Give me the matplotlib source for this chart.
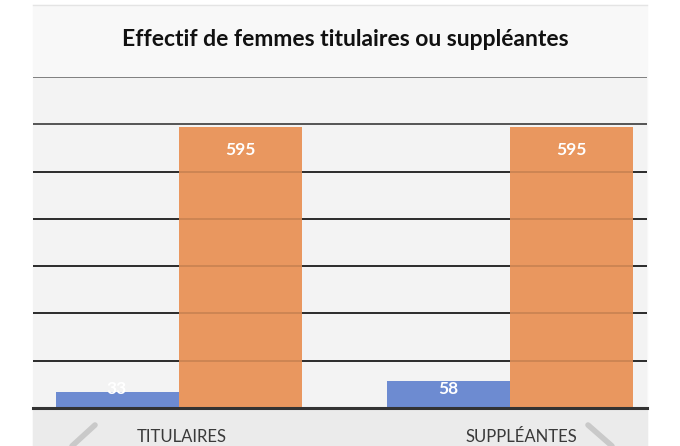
import matplotlib
matplotlib.use("Agg")
import matplotlib.pyplot as plt
from matplotlib.patches import Rectangle
from matplotlib.lines import Line2D
import numpy as np

title = "Effectif de femmes titulaires ou suppléantes"
categories = ["TITULAIRES", "SUPPLÉANTES"]
series_blue = [33, 58]
series_orange = [595, 595]
y_ticks = [0, 100, 200, 300, 400, 500, 600, 700]

W, H = 680, 446
fig = plt.figure(figsize=(W / 100, H / 100), dpi=100)
fig.patch.set_facecolor("white")

def fx(px):
    return px / W

def fy(py):
    return 1 - py / H

# chart panel background
fig.add_artist(Rectangle((fx(33), fy(446)), fx(647) - fx(33), fy(5) - fy(446),
                         transform=fig.transFigure, color="#f8f8f8", zorder=-3))
fig.add_artist(Rectangle((fx(33), fy(446)), fx(647) - fx(33), fy(409) - fy(446),
                         transform=fig.transFigure, color="#ebebeb", zorder=-2))
fig.add_artist(Line2D([fx(33), fx(647)], [fy(5), fy(5)], transform=fig.transFigure,
                      color="#e4e4e4", lw=1))
# faint diagonal decorations at bottom
fig.add_artist(Line2D([fx(72), fx(95)], [fy(446), fy(425)], transform=fig.transFigure,
                      color="#c9c9c9", lw=4, solid_capstyle="round"))
fig.add_artist(Line2D([fx(588), fx(612)], [fy(425), fy(446)], transform=fig.transFigure,
                      color="#c9c9c9", lw=4, solid_capstyle="round"))

ax = fig.add_axes([fx(33), fy(408), fx(647) - fx(33), fy(77) - fy(408)])
ax.set_facecolor("#f3f3f3")

x = np.arange(len(categories))
bw = 0.371
xl = -0.439
xr = 1.413
ax.set_xlim(xl, xr)
ax.set_ylim(0, 700)

blue = "#6d8bd1"
orange = "#e9975f"
ax.bar(x - bw / 2, series_blue, width=bw, color=blue, zorder=2)
ax.bar(x + bw / 2, series_orange, width=bw, color=orange, zorder=2)

# gridlines: dark behind, faint over bars
for t in y_ticks[1:]:
    col = "#8a8a8a" if t == 700 else ("#555555" if t == 600 else "#222222")
    ax.axhline(t, color=col, lw=1.3, zorder=1)
    ax.axhline(t, color="black", lw=1.3, alpha=0.13, zorder=3)
ax.axhline(0, color="#333333", lw=2.2, zorder=4, clip_on=False)

lab_font = dict(family="Lato", weight="bold", size=12.5, color="white")
for xi, v in zip(x - bw / 2, series_blue):
    ax.text(xi, max(v - 49, 40), str(v), ha="center", va="center", zorder=5, **lab_font)
for xi, v in zip(x + bw / 2, series_orange):
    ax.text(xi, max(v - 49, 40), str(v), ha="center", va="center", zorder=5, **lab_font)

ax.set_xticks(x + np.array([0.01, 0.035]))
ax.set_xticklabels(categories, family="Lato", size=12, color="#3a3a3a")
ax.tick_params(axis="x", length=0, pad=15)
ax.set_yticks([])
for s in ax.spines.values():
    s.set_visible(False)

fig.text(fx(345), fy(39), title, ha="center", va="center", family="Lato",
         weight="bold", size=16.5, color="#111111")

fig.savefig("out.png", dpi=100)
